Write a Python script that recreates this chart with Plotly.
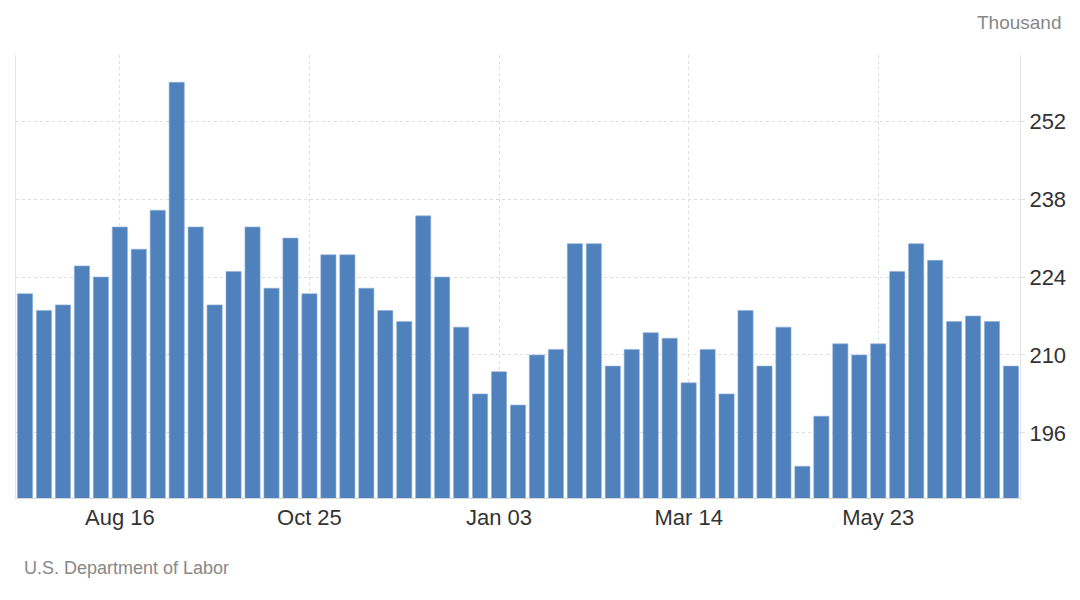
import plotly.graph_objects as go
import pandas as pd

# Weekly dates (Thursdays), Jul 12 2018 .. Jul 11 2019
start_date = "2018-07-12"
n_weeks = 53
dates = pd.date_range(start_date, periods=n_weeks, freq="7D")

values = [221, 218, 219, 226, 224, 233, 229, 236, 259, 233,
          219, 225, 233, 222, 231, 221, 228, 228, 222, 218,
          216, 235, 224, 215, 203, 207, 201, 210, 211, 230,
          230, 208, 211, 214, 213, 205, 211, 203, 218, 208,
          215, 190, 199, 212, 210, 212, 225, 230, 227, 216,
          217, 216, 208]

tick_dates = ["2018-08-16", "2018-10-25", "2019-01-03", "2019-03-14", "2019-05-23"]
tick_labels = ["Aug 16", "Oct 25", "Jan 03", "Mar 14", "May 23"]
y_ticks = [196, 210, 224, 238, 252]

font_family = "Liberation Sans, Arial, sans-serif"

# plot area in pixels
L, R, T, B = 16, 1020, 55, 498
W, H = R - L, B - T

def px(x):
    return (x - L) / W

def py(y):
    return (B - y) / H

fig = go.Figure()
fig.add_trace(go.Bar(
    x=dates, y=values,
    marker=dict(color="#4f81bd", line=dict(color="#8fb0d8", width=0.6)),
    hoverinfo="x+y",
))

x0 = dates[0] - pd.Timedelta(hours=80)
x1 = dates[-1] + pd.Timedelta(hours=80)

fig.update_layout(
    width=1080, height=600,
    margin=dict(l=L, r=1080 - R, t=T, b=600 - B),
    paper_bgcolor="white", plot_bgcolor="white",
    bargap=0.2,
    showlegend=False,
    font=dict(family=font_family, size=18, color="#333333"),
    xaxis=dict(
        range=[x0, x1],
        tickvals=list(pd.to_datetime(tick_dates)),
        ticktext=tick_labels,
        showgrid=True, gridcolor="#dedede", griddash="dot", gridwidth=1,
        showline=True, linecolor="#d8d8d8", linewidth=1,
        ticks="", tickfont=dict(size=22, color="#333333"),
        zeroline=False,
    ),
    yaxis=dict(
        side="right",
        range=[184.3, 263.9],
        tickvals=y_ticks,
        showgrid=True, gridcolor="#dedede", griddash="dot", gridwidth=1,
        showline=True, mirror=True, linecolor="#e4e4e4", linewidth=1,
        ticks="outside", ticklen=4, tickcolor="#e0e0e0",
        tickfont=dict(size=22, color="#333333"),
        zeroline=False,
    ),
    annotations=[
        dict(text="Thousand", xref="paper", yref="paper",
             x=px(1064), y=py(22), xanchor="right", yanchor="middle",
             showarrow=False, font=dict(size=19, color="#888888", family=font_family)),
        dict(text="U.S. Department of Labor", xref="paper", yref="paper",
             x=px(22), y=py(568), xanchor="left", yanchor="middle",
             showarrow=False, font=dict(size=18, color="#888888", family=font_family)),
    ],
)

fig.write_html("out.html")
